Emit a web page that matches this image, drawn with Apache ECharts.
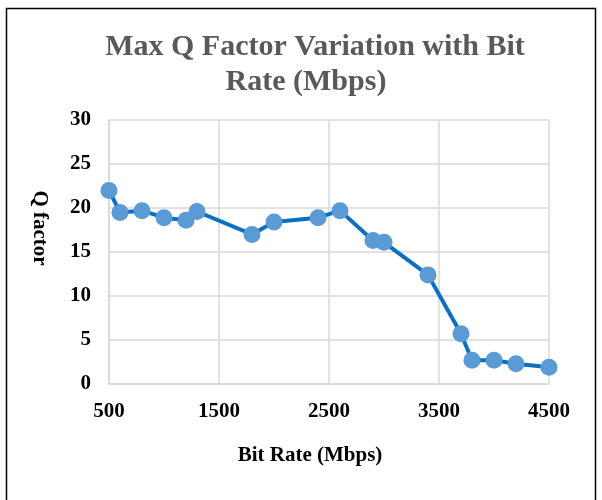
<!DOCTYPE html>
<html>
<head>
<meta charset="utf-8">
<script src="https://cdn.jsdelivr.net/npm/echarts@6/dist/echarts.min.js"></script>
<style>
  html, body { margin: 0; padding: 0; background: #fff; }
  #chart { width: 602px; height: 500px; }
</style>
</head>
<body>
<div id="chart"></div>
<script>
// Bit rate (Mbps) and the maximum Q factor measured at each rate
const bitRates = [500, 600, 800, 1000, 1200, 1300, 1800, 2000, 2400, 2600, 2900, 3000, 3400, 3700, 3800, 4000, 4200, 4500];
const qFactors = [22.0, 19.5, 19.7, 18.9, 18.6, 19.6, 17.0, 18.4, 18.9, 19.7, 16.3, 16.1, 12.4, 5.7, 2.7, 2.7, 2.3, 1.9];

const titleLines = ['Max Q Factor Variation with Bit', 'Rate (Mbps)'];
const xName = 'Bit Rate (Mbps)';
const yName = 'Q factor';

const serif = '"Liberation Serif", "DejaVu Serif", serif';
const titleStyle = { fontFamily: serif, fontWeight: 'bold', fontSize: 30, color: '#595959' };

const chart = echarts.init(document.getElementById('chart'));
chart.setOption({
  animation: false,
  backgroundColor: '#fff',
  title: [
    { text: titleLines[0], left: 310, top: 27, textAlign: 'center', textStyle: titleStyle },
    { text: titleLines[1], left: 301, top: 62, textAlign: 'center', textStyle: titleStyle }
  ],
  graphic: [{
    type: 'rect',
    shape: { x: 6.5, y: 8.5, width: 589, height: 510 },
    style: { fill: 'none', stroke: '#000', lineWidth: 1.5 },
    silent: true
  }],
  grid: { left: 109, right: 53, top: 120, bottom: 116 },
  xAxis: {
    type: 'value',
    min: 500,
    max: 4500,
    interval: 1000,
    name: xName,
    nameLocation: 'middle',
    nameGap: 61,
    nameTextStyle: { fontFamily: serif, fontWeight: 'bold', fontSize: 21, color: '#000', padding: [0, 38, 0, 0] },
    axisLine: { show: true, lineStyle: { color: '#d9d9d9', width: 1.5 } },
    axisTick: { show: false },
    splitLine: { show: true, lineStyle: { color: '#d9d9d9', width: 1.5 } },
    axisLabel: {
      fontFamily: serif, fontWeight: 'bold', fontSize: 21, color: '#000', margin: 17,
      formatter: v => String(v)
    }
  },
  yAxis: {
    type: 'value',
    min: 0,
    max: 30,
    interval: 5,
    name: yName,
    nameLocation: 'middle',
    nameGap: 59,
    nameRotate: -90,
    nameTextStyle: { fontFamily: serif, fontWeight: 'bold', fontSize: 21, color: '#000', padding: [0, 48, 0, 0] },
    axisLine: { show: true, lineStyle: { color: '#d9d9d9', width: 1.5 } },
    axisTick: { show: false },
    splitLine: { show: true, lineStyle: { color: '#d9d9d9', width: 1.5 } },
    axisLabel: { fontFamily: serif, fontWeight: 'bold', fontSize: 21, color: '#000', margin: 18 }
  },
  series: [{
    type: 'line',
    data: bitRates.map((x, i) => [x, qFactors[i]]),
    symbol: 'circle',
    symbolSize: 17,
    showAllSymbol: true,
    lineStyle: { color: '#0a70c2', width: 4 },
    itemStyle: { color: '#5b9bd5', borderWidth: 0 },
    emphasis: { disabled: true }
  }]
});
</script>
</body>
</html>
